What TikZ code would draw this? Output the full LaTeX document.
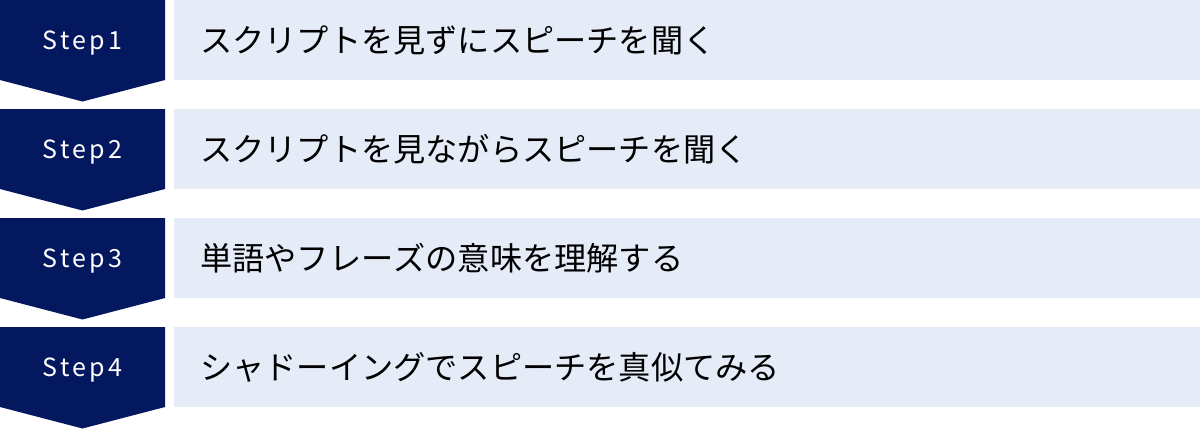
\documentclass[tikz,border=0pt]{standalone}
\usepackage{fontspec}
\setmainfont[Kerning=Off]{Noto Sans CJK JP}
\newfontfamily\stepfont[LetterSpace=13]{Noto Sans CJK JP}
\definecolor{navy}{RGB}{4,24,96}
\definecolor{lightbg}{RGB}{230,235,248}
\begin{document}
\begin{tikzpicture}[x=1pt,y=-1pt,
  stepshape/.style={fill=navy,draw=none},
  textbox/.style={fill=lightbg,draw=none},
  steplabel/.style={text=white,font=\stepfont\fontsize{25}{30}\selectfont,anchor=base,inner sep=0pt},
  desclabel/.style={text=black,font=\fontsize{32.2}{38}\selectfont,anchor=west,inner sep=0pt}]
\useasboundingbox (0,0) rectangle (1200,429);
\foreach \i/\txt in {1/スクリプトを見ずにスピーチを聞く,2/スクリプトを見ながらスピーチを聞く,3/単語やフレーズの意味を理解する,4/シャドーイングでスピーチを真似てみる}{
  \pgfmathsetmacro{\t}{(\i-1)*109}
  \fill[stepshape] (0,\t) -- (165,\t) -- (165,\t+80) -- (82.5,\t+101.5) -- (0,\t+80) -- cycle;
  \fill[textbox] (174,\t) rectangle (1200,\t+80);
  \node[steplabel] (s\i) at (82.5,\t+49) {Step\i};
  \node[desclabel] (d\i) at (200,\t+40) {\txt};
}
\end{tikzpicture}
\end{document}
